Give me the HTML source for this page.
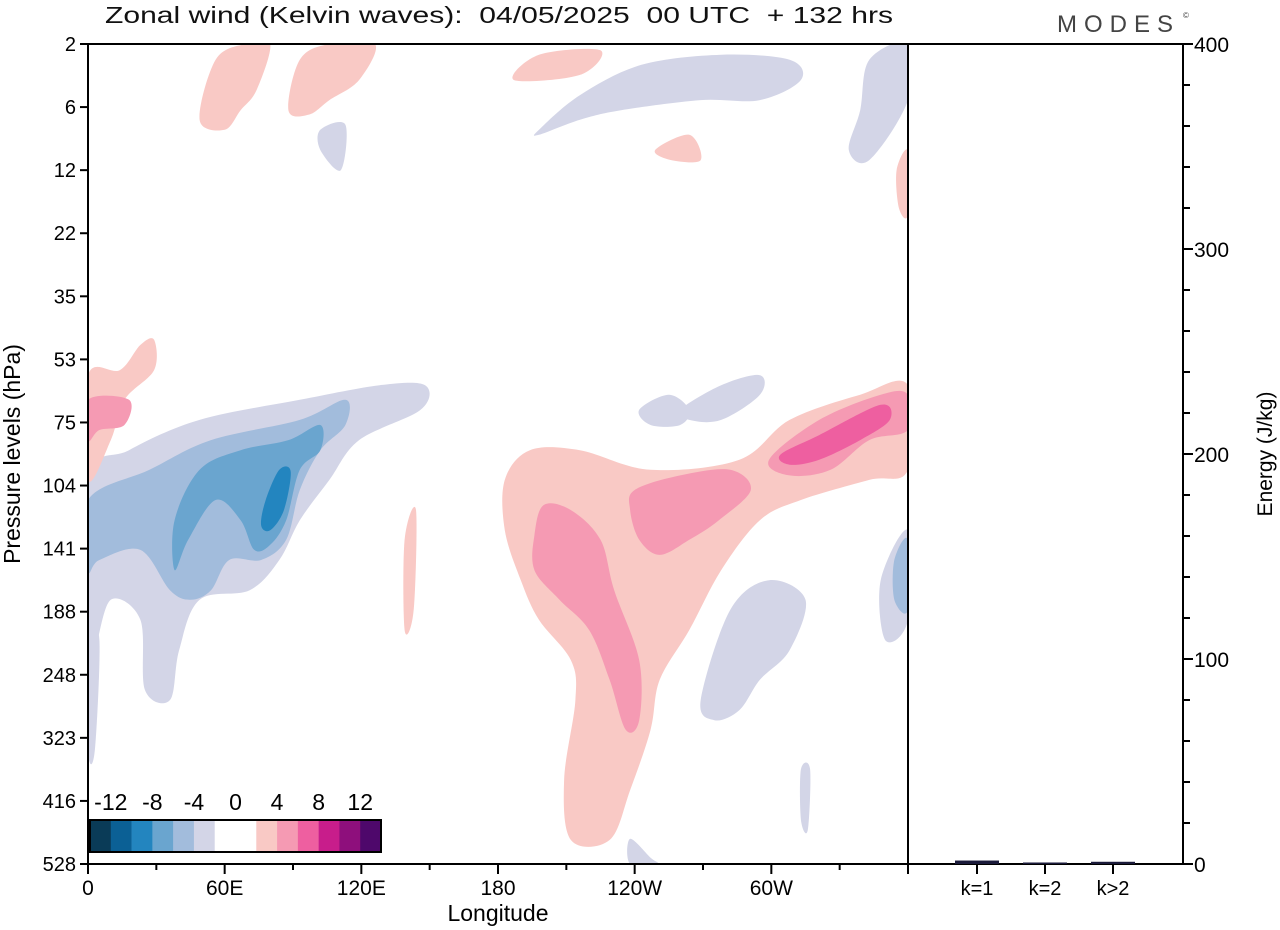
<!DOCTYPE html>
<html><head><meta charset="utf-8"><style>
html,body{margin:0;padding:0;background:#fff;}
svg{display:block;font-family:"Liberation Sans",Arial,sans-serif;}
</style></head><body>
<svg id="chart" width="1280" height="930" viewBox="0 0 1280 930">
<text x="105" y="23" font-size="23" fill="#111" textLength="788" lengthAdjust="spacingAndGlyphs" style="white-space:pre">Zonal wind (Kelvin waves):  04/05/2025  00 UTC  + 132 hrs</text>
<text x="1057" y="32" font-size="24" fill="#444" letter-spacing="7">MODES</text>
<text x="1183" y="18" font-size="8" fill="#444">©</text>
<g id="field"></g>
<g id="axes"></g>
</svg>
<script>
// ----- data -----
const pressureLevels=[2,6,12,22,35,53,75,104,141,188,248,323,416,528];
const lonTickValues=[0,60,120,180,240,300];
const lonTickLabels=["0","60E","120E","180","120W","60W"];
const legendLabels=["-12","-8","-4","0","4","8","12"];
const legendColors=["#0a3b57","#0b6095","#2385bf","#6aa5cf","#a2bcdc","#d3d5e7","#ffffff","#ffffff","#f9c9c5","#f59ab3","#ee5fa0","#c81d8b","#8e0f7c","#4e086b"];
const energyTicks=[0,100,200,300,400];
const waveCategories=["k=1","k=2","k>2"];
const waveEnergy=[1.2,0.2,0.6];
// contour regions: [color, points as [longitude deg, pressure level index]]
const lavenderBand=[[0,6.91],[18,6.44],[49,5.96],[93,5.64],[128,5.41],[148,5.41],[146,5.8],[119,6.28],[106,6.91],[93,7.55],[84,8.18],[71,8.66],[49,8.81],[40,9.61],[36,10.4],[25,10.24],[23,9.13],[10,8.81],[3,9.61],[0,9.61]];
const blueBand2=[[0,7.23],[27,6.75],[54,6.28],[93,5.96],[113,5.64],[113,6.04],[102,6.44],[93,7.07],[87,7.86],[76,8.18],[62,8.18],[54,8.66],[45,8.81],[36,8.66],[23,8.02],[5,8.18],[0,8.34]];
const blueBand3=[[38,7.55],[49,6.75],[67,6.44],[88,6.28],[102,6.04],[102,6.44],[93,6.75],[87,7.55],[80,7.94],[73,8.02],[67,7.55],[56,7.23],[44,7.86],[38,8.34]];
const blueCore=[[78,7.23],[84,6.75],[89,6.78],[86,7.39],[80,7.71],[76,7.63]];
const pinkLeft=[[0,5.25],[14,5.17],[23,4.77],[29,4.69],[29,5.17],[16,5.64],[10,6.28],[0,6.91]];
const pinkLeft2=[[0,5.64],[18,5.64],[16,6.04],[5,6.12],[0,6.28]];
const pinkBig=[[183,6.91],[194,6.44],[216,6.44],[247,6.75],[286,6.59],[308,5.96],[339,5.56],[360,5.41],[360,6.75],[343,6.91],[313,7.23],[295,7.55],[278,8.34],[264,9.29],[251,10.08],[247,10.87],[238,11.83],[229,12.62],[212,12.62],[209,11.67],[214,10.4],[212,9.77],[198,9.13],[190,8.5],[183,7.71]];
const pinkMidA=[[196,7.79],[200,7.31],[212,7.39],[225,7.86],[231,8.66],[242,9.77],[242,10.72],[236,10.87],[229,10.08],[220,9.29],[207,8.81],[196,8.34]];
const pinkMidB=[[240,7.07],[260,6.84],[282,6.75],[291,7.07],[277,7.55],[264,7.86],[251,8.1],[242,7.86],[238,7.39]];
const pinkMidC=[[299,6.59],[321,5.96],[348,5.56],[360,5.56],[360,6.12],[343,6.28],[326,6.75],[308,6.84]];
const pinkCore=[[304,6.51],[321,6.2],[348,5.72],[352,5.96],[339,6.28],[321,6.59],[308,6.67]];
const lavTop=[[198,1.36],[216,0.81],[243,0.33],[278,0.17],[308,0.25],[313,0.57],[295,0.89],[269,0.89],[234,1.05],[216,1.2],[198,1.44]];
const lavTopRight=[[343,0.25],[360,0],[360,0.89],[343,1.84],[334,1.68],[339,1.05]];
const lavMidA=[[242,5.8],[255,5.56],[264,5.8],[260,6.04],[247,6.04]];
const lavMidB=[[260,5.8],[278,5.41],[295,5.25],[295,5.56],[278,5.96],[264,5.96]];
const lavLowRight=[[269,10.4],[282,8.97],[299,8.5],[315,8.81],[308,9.61],[295,10.08],[286,10.56],[275,10.72]];
const lavEdge=[[348,8.5],[360,7.71],[360,9.13],[350,9.45]];
const blueEdge=[[354,8.18],[360,7.86],[360,8.97],[354,8.81]];
const lavLeftThin=[[0,9.45],[5,9.45],[3,11.2],[0,11.2]];
const lavSmall1=[[102,1.36],[113,1.28],[111,2.0],[102,1.68]];
const lavSmall2=[[313,11.5],[317,11.5],[316,12.46],[313,12.3]];
const lavBottom=[[238,12.6],[247,12.9],[250,13],[238,13]];
const pinkTopA=[[49,1.2],[56,0.25],[69,0],[80,0],[74,0.73],[67,1.05],[60,1.36]];
const pinkTopB=[[88,1.05],[93,0.25],[106,0],[126,0],[119,0.57],[106,0.89],[97,1.12]];
const pinkTopC=[[187,0.57],[198,0.17],[225,0.1],[216,0.49]];
const pinkTopD=[[249,1.68],[264,1.44],[269,1.84],[256,1.84]];
const pinkVert=[[139,7.86],[144,7.39],[143,8.97],[139,9.29]];
const pinkTopRight=[[355,2.0],[360,1.7],[360,2.7],[356,2.6]];
const regions=[
 ["#d3d5e7",lavenderBand],["#a2bcdc",blueBand2],["#6aa5cf",blueBand3],["#2385bf",blueCore],
 ["#f9c9c5",pinkLeft],["#f59ab3",pinkLeft2],
 ["#f9c9c5",pinkBig],["#f59ab3",pinkMidA],["#f59ab3",pinkMidB],["#f59ab3",pinkMidC],["#ee5fa0",pinkCore],
 ["#d3d5e7",lavTop],["#d3d5e7",lavTopRight],["#d3d5e7",lavMidA],["#d3d5e7",lavMidB],["#d3d5e7",lavLowRight],
 ["#d3d5e7",lavEdge],["#a2bcdc",blueEdge],["#d3d5e7",lavLeftThin],["#d3d5e7",lavSmall1],["#d3d5e7",lavSmall2],["#d3d5e7",lavBottom],
 ["#f9c9c5",pinkTopA],["#f9c9c5",pinkTopB],["#f9c9c5",pinkTopC],["#f9c9c5",pinkTopD],["#f9c9c5",pinkVert],["#f9c9c5",pinkTopRight]
];
// ----- axes functions -----
const X0=88,X1=908,Y0=44,Y1=864;
const xLon=l=>X0+(X1-X0)*l/360;
const yLev=i=>Y0+(Y1-Y0)*i/(pressureLevels.length-1);
const PX0=908,PX1=1183;
const yE=e=>Y1-(Y1-Y0)*e/400;
const xCat=i=>977+i*68;
const NS="http://www.w3.org/2000/svg";
function mk(tag,attrs,parent){const e=document.createElementNS(NS,tag);for(const k in attrs)e.setAttribute(k,attrs[k]);parent.appendChild(e);return e;}
function smooth(pts){
 const p=pts.map(q=>[Math.min(Math.max(xLon(q[0]),X0),X1),Math.min(Math.max(yLev(q[1]),Y0),Y1)]);
 const n=p.length;let d="M"+p[0][0].toFixed(1)+","+p[0][1].toFixed(1);
 for(let i=0;i<n;i++){const a=p[(i-1+n)%n],b=p[i],c=p[(i+1)%n],e=p[(i+2)%n];
  const c1=[b[0]+(c[0]-a[0])/6,b[1]+(c[1]-a[1])/6],c2=[c[0]-(e[0]-b[0])/6,c[1]-(e[1]-b[1])/6];
  d+=`C${c1[0].toFixed(1)},${c1[1].toFixed(1)} ${c2[0].toFixed(1)},${c2[1].toFixed(1)} ${c[0].toFixed(1)},${c[1].toFixed(1)}`;}
 return d+"Z";}
const field=document.getElementById('field');
mk('clipPath',{id:'plotclip'},field).appendChild(document.createElementNS(NS,'rect'));
const cr=field.querySelector('clipPath rect');cr.setAttribute('x',X0);cr.setAttribute('y',Y0);cr.setAttribute('width',X1-X0);cr.setAttribute('height',Y1-Y0);
const fg=mk('g',{'clip-path':'url(#plotclip)'},field);
regions.forEach(r=>{
 const el=mk('path',{d:smooth(r[1]),fill:r[0]},fg);
 
 
});
const ax=document.getElementById('axes');
let f=mk('rect',{x:X0,y:Y0,width:X1-X0,height:Y1-Y0,fill:'none',stroke:'#000','stroke-width':2},ax);


f=mk('path',{d:`M${PX0},${Y0}H${PX1}V${Y1}H${PX0}`,fill:'none',stroke:'#000','stroke-width':2},ax);


pressureLevels.forEach((p,i)=>{
 const y=yLev(i);
 mk('line',{x1:X0-8,x2:X0,y1:y,y2:y,stroke:'#000','stroke-width':2},ax);
 const t=mk('text',{x:X0-12,y:y+7,'font-size':20,'text-anchor':'end'},ax);t.textContent=p;
 
 
});
let t=mk('text',{transform:'translate(20,454) rotate(-90)','font-size':23,'text-anchor':'middle'},ax);t.textContent='Pressure levels (hPa)';


for(let l=0;l<=360;l+=30){const x=xLon(l);mk('line',{x1:x,x2:x,y1:Y1,y2:Y1+(l%60==0?10:6),stroke:'#000','stroke-width':2},ax);}
lonTickValues.forEach((l,i)=>{
 const t=mk('text',{x:xLon(l),y:Y1+31,'font-size':21,'text-anchor':'middle'},ax);t.textContent=lonTickLabels[i];
 
 
});
t=mk('text',{x:498,y:921,'font-size':23,'text-anchor':'middle'},ax);t.textContent='Longitude';


for(let e=0;e<=400;e+=20){const y=yE(e);mk('line',{x1:PX1,x2:PX1+(e%100==0?10:7),y1:y,y2:y,stroke:'#000','stroke-width':2},ax);}
energyTicks.forEach(e=>{
 const t=mk('text',{x:PX1+11,y:yE(e)+8,'font-size':21},ax);t.textContent=e;
 
 
});
t=mk('text',{transform:'translate(1272,454) rotate(-90)','font-size':21,'text-anchor':'middle'},ax);t.textContent='Energy (J/kg)';


waveCategories.forEach((c,i)=>{
 const x=xCat(i);
 mk('line',{x1:x,x2:x,y1:Y1,y2:Y1+10,stroke:'#000','stroke-width':2},ax);
 const t=mk('text',{x:x,y:Y1+31,'font-size':20,'text-anchor':'middle'},ax);t.textContent=c;
 
 
 const h=Math.max(Y1-yE(waveEnergy[i]),0.5);
 const b=mk('rect',{x:x-22,y:Y1-h-1,width:44,height:h+1,fill:'#1a1a3a'},ax);
 
 
});
const lg=mk('g',{},ax);


const LX=90,LW=291/legendColors.length;
mk('rect',{x:LX-1,y:786,width:293,height:77,fill:'#fff'},lg);
legendColors.forEach((c,i)=>{
 const r=mk('rect',{x:LX+i*LW,y:820,width:LW+0.3,height:32,fill:c},lg);
 
 
});
mk('rect',{x:LX,y:820,width:291,height:32,fill:'none',stroke:'#000','stroke-width':2},lg);
legendLabels.forEach((s,i)=>{
 const t=mk('text',{x:LX+LW*(1+2*i),y:810,'font-size':23,'text-anchor':'middle'},lg);t.textContent=s;
 
 
});
</script>
</body></html>
